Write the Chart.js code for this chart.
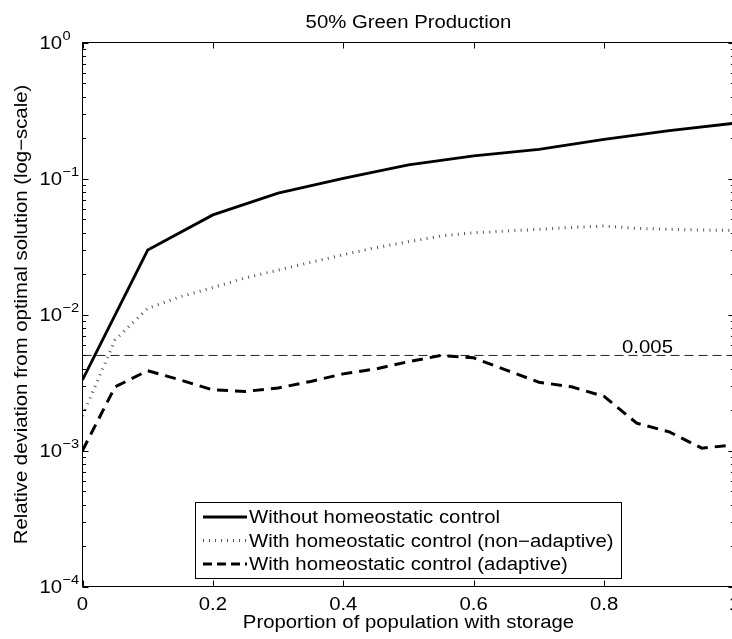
<!DOCTYPE html>
<html>
<head>
<meta charset="utf-8">
<title>50% Green Production</title>
<script src="https://cdn.jsdelivr.net/npm/chart.js@4.4.1/dist/chart.umd.min.js"></script>
<style>
  html, body { margin: 0; padding: 0; background: #fff; }
  #wrap { width: 732px; height: 639px; }
</style>
</head>
<body>
<div id="wrap"><canvas id="myChart" width="732" height="639"></canvas></div>
<script>
// x positions (proportion of population with storage)
const xCoarse = [0, 0.1, 0.2, 0.3, 0.4, 0.5, 0.6, 0.7, 0.8, 0.9, 1.0];
const xFine = [0, 0.05, 0.1, 0.15, 0.2, 0.25, 0.3, 0.35, 0.4, 0.45, 0.5,
               0.55, 0.6, 0.65, 0.7, 0.75, 0.8, 0.85, 0.9, 0.95, 1.0];

// relative deviation from optimal solution
const withoutControl = [0.0033, 0.0298, 0.054, 0.078, 0.1004, 0.126, 0.1465, 0.164, 0.194, 0.225, 0.255];
const nonAdaptive = [0.0018, 0.0065, 0.0111, 0.0135, 0.0158, 0.0186, 0.0212, 0.0242, 0.0275, 0.031, 0.0343,
                     0.0378, 0.0399, 0.0411, 0.0423, 0.0437, 0.0447, 0.043, 0.0423, 0.0418, 0.0415];
const adaptive = [0.0010, 0.00294, 0.00386, 0.0033, 0.00279, 0.00272, 0.00288, 0.00322, 0.00366, 0.00398, 0.0045,
                  0.0050, 0.0048, 0.0039, 0.00318, 0.00294, 0.0025, 0.00159, 0.00137, 0.00104, 0.0011];
const threshold = 0.005;

// axis ticks
const xTicks = [0, 0.2, 0.4, 0.6, 0.8, 1];
const xTickLabels = ['0', '0.2', '0.4', '0.6', '0.8', '1'];
const yTicks = [1e-4, 1e-3, 1e-2, 1e-1, 1];

const seriesNames = [
  'Without homeostatic control',
  'With homeostatic control (non\u2212adaptive)',
  'With homeostatic control (adaptive)'
];

const FONT = '"Liberation Sans", Arial, Helvetica, sans-serif';
const SX = 1.13; // the reference glyphs are a bit wider than Arial

function toPoints(xs, ys) {
  return xs.map((x, i) => ({ x: x, y: ys[i] }));
}

function drawText(ctx, str, x, y, align, size) {
  ctx.save();
  ctx.translate(x, y);
  ctx.scale(SX, 1);
  ctx.font = size + 'px ' + FONT;
  ctx.textAlign = align;
  ctx.textBaseline = 'alphabetic';
  ctx.fillStyle = '#000';
  ctx.fillText(str, 0, 0);
  ctx.restore();
}

// axes box, inward ticks, labels and legend in MATLAB style
const matlabFrame = {
  id: 'matlabFrame',
  afterDatasetsDraw(chart) {
    const ys = chart.scales.y;
    // threshold label
    drawText(chart.ctx, String(threshold), 647.5, ys.getPixelForValue(threshold) - 2, 'center', 18);
  },
  afterDraw(chart) {
    const ctx = chart.ctx;
    const area = chart.chartArea;
    const xs = chart.scales.x;
    const ys = chart.scales.y;
    // the real right edge of the axes (x = 1) sits just past the canvas
    const right = xs.getPixelForValue(1);

    ctx.save();
    ctx.strokeStyle = '#000';
    ctx.lineWidth = 1;
    ctx.setLineDash([]);
    ctx.strokeRect(area.left, area.top, right - area.left, area.bottom - area.top);

    ctx.beginPath();
    // x ticks on bottom and top
    xTicks.forEach(v => {
      const px = Math.round(xs.getPixelForValue(v)) + 0.5;
      ctx.moveTo(px, area.bottom);
      ctx.lineTo(px, area.bottom - 6);
      ctx.moveTo(px, area.top);
      ctx.lineTo(px, area.top + 6);
    });
    // y major and minor ticks on left and right
    yTicks.forEach(v => {
      const py = Math.round(ys.getPixelForValue(v)) + 0.5;
      ctx.moveTo(area.left, py);
      ctx.lineTo(area.left + 6, py);
      ctx.moveTo(right, py);
      ctx.lineTo(right - 6, py);
      if (v < 1) {
        for (let k = 2; k <= 9; k++) {
          const pm = Math.round(ys.getPixelForValue(v * k)) + 0.5;
          ctx.moveTo(area.left, pm);
          ctx.lineTo(area.left + 3.5, pm);
          ctx.moveTo(right, pm);
          ctx.lineTo(right - 3.5, pm);
        }
      }
    });
    ctx.stroke();
    ctx.restore();

    // tick labels
    xTicks.forEach((v, i) => {
      drawText(ctx, xTickLabels[i], xs.getPixelForValue(v), 610, 'center', 18);
    });
    yTicks.forEach(v => {
      const py = ys.getPixelForValue(v);
      const e = Math.round(Math.log10(v));
      drawText(ctx, '10', 62, py + 6.3, 'right', 18);
      drawText(ctx, e === 0 ? '0' : '\u2212' + (-e), 62.5, py - 3, 'left', 13);
    });

    // titles
    const cx = (area.left + right) / 2;
    const cy = (area.top + area.bottom) / 2;
    drawText(ctx, '50% Green Production', cx, 27.5, 'center', 18);
    drawText(ctx, 'Proportion of population with storage', cx, 627.5, 'center', 18);
    ctx.save();
    ctx.translate(27.3, cy);
    ctx.rotate(-Math.PI / 2);
    drawText(ctx, 'Relative deviation from optimal solution (log\u2212scale)', 0, 0, 'center', 18);
    ctx.restore();

    // legend
    ctx.save();
    ctx.fillStyle = '#fff';
    ctx.fillRect(195.5, 502.5, 426, 76);
    ctx.strokeStyle = '#000';
    ctx.lineWidth = 1;
    ctx.strokeRect(195.5, 502.5, 426, 76);
    ctx.restore();

    const rows = [517, 540.5, 564];
    chart.data.datasets.slice(0, 3).forEach((ds, i) => {
      ctx.save();
      ctx.strokeStyle = ds.borderColor;
      ctx.lineWidth = ds.borderWidth;
      ctx.setLineDash(ds.legendDash);
      ctx.beginPath();
      ctx.moveTo(203, rows[i]);
      ctx.lineTo(247, rows[i]);
      ctx.stroke();
      ctx.restore();
      drawText(ctx, ds.label, 249, rows[i] + 6.3, 'left', 18);
    });
  }
};

document.addEventListener('DOMContentLoaded', () => {
  const ctx = document.getElementById('myChart').getContext('2d');
  new Chart(ctx, {
    type: 'line',
    data: {
      datasets: [
        {
          label: seriesNames[0],
          data: toPoints(xCoarse, withoutControl),
          borderColor: '#000',
          borderWidth: 2.8,
          legendDash: [],
          pointRadius: 0,
          tension: 0
        },
        {
          label: seriesNames[1],
          data: toPoints(xFine, nonAdaptive),
          borderColor: '#555',
          borderWidth: 3,
          borderDash: [1, 5.3],
          legendDash: [1, 5],
          pointRadius: 0,
          tension: 0
        },
        {
          label: seriesNames[2],
          data: toPoints(xFine, adaptive),
          borderColor: '#000',
          borderWidth: 3,
          borderDash: [11, 7],
          legendDash: [9, 5],
          pointRadius: 0,
          tension: 0
        },
        {
          label: 'threshold',
          data: toPoints([0, 1], [threshold, threshold]),
          borderColor: '#222',
          borderWidth: 1,
          borderDash: [9, 5],
          pointRadius: 0,
          tension: 0
        }
      ]
    },
    options: {
      responsive: false,
      animation: false,
      devicePixelRatio: 1,
      layout: {
        padding: { left: 82.5, top: 42.5, right: 0, bottom: 52.5 }
      },
      plugins: {
        legend: { display: false },
        title: { display: false },
        tooltip: { enabled: false }
      },
      scales: {
        // the picture is cropped a little before x = 1
        x: { type: 'linear', min: 0, max: 0.9962, display: false },
        y: { type: 'logarithmic', min: 1e-4, max: 1, display: false }
      }
    },
    plugins: [matlabFrame]
  });
});
</script>
</body>
</html>
